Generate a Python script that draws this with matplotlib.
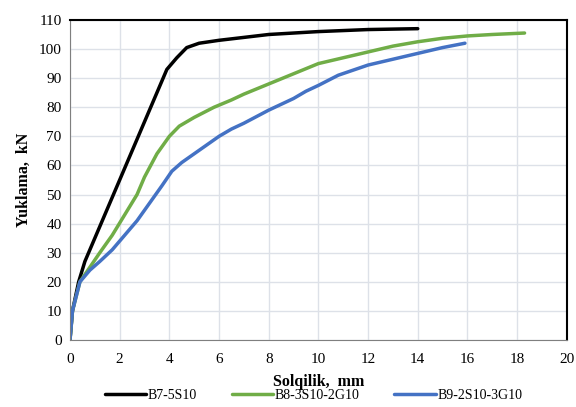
import matplotlib
matplotlib.use("Agg")
from matplotlib import pyplot as plt

plt.rcParams['font.family'] = ['Liberation Serif', 'DejaVu Serif']

# B7-5S10
b7_x = [0, 0.1, 0.35, 0.6, 1.0, 1.5, 2.0, 2.5, 3.0, 3.5, 3.9, 4.3, 4.7, 5.2, 6, 7, 8, 10, 12, 14]
b7_y = [0, 10, 20, 27, 35, 45, 55, 65, 75, 85, 93, 97, 100.5, 102, 103, 104, 105, 106, 106.7, 107]
# B8-3S10-2G10
b8_x = [0, 0.1, 0.4, 0.8, 1.2, 1.7, 2.2, 2.7, 3.0, 3.5, 4.0, 4.4, 5, 5.8, 6.5, 7, 8, 9, 10, 11, 12, 13, 14, 15, 16, 17, 18.3]
b8_y = [0, 10, 20, 25, 30, 36, 43, 50, 56, 64, 70, 73.5, 76.5, 80, 82.5, 84.5, 88, 91.5, 95, 97, 99, 101, 102.5, 103.7, 104.5, 105, 105.5]
# B9-2S10-3G10
b9_x = [0, 0.1, 0.4, 0.8, 1.2, 1.7, 2.2, 2.7, 3.2, 3.7, 4.1, 4.5, 5, 5.5, 6, 6.5, 7, 8, 9, 9.5, 10, 10.8, 12, 13, 14, 15, 15.9]
b9_y = [0, 10, 20, 24, 27, 31, 36, 41, 47, 53, 58, 61, 64, 67, 70, 72.5, 74.5, 79, 83, 85.5, 87.5, 91, 94.5, 96.5, 98.5, 100.5, 102]

labels = ["B7-5S10", "B8-3S10-2G10", "B9-2S10-3G10"]
colors = ["black", "#70ad47", "#4472c4"]

fig = plt.figure(figsize=(5.76, 4.07), dpi=100)
ax = fig.add_axes([0.1215, 0.1646, 0.8625, 0.7864])

for xs, ys, lab, c in zip([b7_x, b8_x, b9_x], [b7_y, b8_y, b9_y], labels, colors):
    ax.plot(xs, ys, color=c, lw=2.5, label=lab, solid_capstyle='round')

ax.set_xlim(0, 20)
ax.set_ylim(0, 110)
ax.set_xticks(range(0, 21, 2))
ax.set_yticks(range(0, 111, 10))
ax.grid(True, color="#dde1e8", lw=1)
ax.set_axisbelow(True)
ax.tick_params(length=0, labelsize=11)
ax.tick_params(axis='x', pad=9)
ax.tick_params(axis='y', pad=6)

ax.spines['top'].set_color('black')
ax.spines['right'].set_color('black')
ax.spines['top'].set_linewidth(1.5)
ax.spines['right'].set_linewidth(1.5)
ax.spines['left'].set_color('#7f7f7f')
ax.spines['bottom'].set_color('#7f7f7f')

ax.set_xlabel("Solqilik,  mm", fontsize=11.5, fontweight='bold', labelpad=6)
ax.set_ylabel("Yuklama,  kN", fontsize=11.5, fontweight='bold', labelpad=5)

ax.legend(loc='center', bbox_to_anchor=(0.49, -0.172), ncol=3, frameon=False,
          fontsize=10, handlelength=3, handletextpad=0.1, columnspacing=2.5)

plt.savefig("out.png", dpi=100)
